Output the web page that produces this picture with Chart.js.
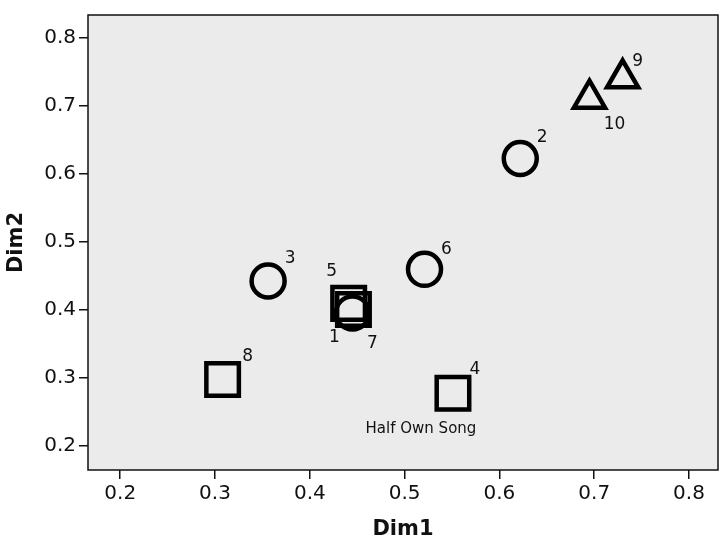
<!DOCTYPE html>
<html>
<head>
<meta charset="utf-8">
<script src="https://cdn.jsdelivr.net/npm/chart.js@4.4.1/dist/chart.umd.min.js"></script>
<style>
  html, body { margin: 0; padding: 0; background: #fff; }
  #wrap { width: 720px; height: 546px; }
</style>
</head>
<body>
<div id="wrap"><canvas id="chart" width="720" height="546"></canvas></div>
<script>
// ---- data ----
const ids    = ['1', '2', '3', '4', '5', '6', '7', '8', '9', '10'];
const dim1   = [0.445, 0.622, 0.356, 0.551, 0.441, 0.521, 0.446, 0.308, 0.730, 0.695];
const dim2   = [0.395, 0.622, 0.442, 0.277, 0.409, 0.459, 0.400, 0.297, 0.740, 0.710];
const shapes = ['circle', 'circle', 'circle', 'rect', 'rect', 'circle', 'rect', 'rect', 'triangle', 'triangle'];
const xTicks = [0.2, 0.3, 0.4, 0.5, 0.6, 0.7, 0.8];
const yTicks = [0.2, 0.3, 0.4, 0.5, 0.6, 0.7, 0.8];
const noteText = 'Half Own Song';   // caption under point 4
const notePoint = '4';

// label offsets from the marker centre (px)
const labelOffsets = {
  '1': [-18, 25], '2': [22, -21], '3': [22, -22], '4': [22, -24], '5': [-17, -32],
  '6': [22, -20], '7': [19, 34], '8': [25, -23], '9': [15, -17], '10': [25, 26]
};
const markerRadius = { circle: 16.5, rect: 23, triangle: 18 };

function buildDataset(shape) {
  const pts = [];
  ids.forEach((id, i) => {
    if (shapes[i] === shape) pts.push({ x: dim1[i], y: dim2[i], id: id });
  });
  return {
    label: shape,
    data: pts,
    pointStyle: shape,
    pointRadius: markerRadius[shape],
    pointHoverRadius: markerRadius[shape],
    pointBorderWidth: 4.5,
    pointBackgroundColor: 'rgba(0,0,0,0)',
    pointBorderColor: '#000',
    showLine: false
  };
}

const plotArea = {
  id: 'plotArea',
  beforeDraw(chart) {
    const { ctx, chartArea: a } = chart;
    ctx.save();
    ctx.fillStyle = '#ebebeb';
    ctx.fillRect(a.left, a.top, a.right - a.left, a.bottom - a.top);
    ctx.restore();
  },
  afterDraw(chart) {
    const { ctx, chartArea: a } = chart;
    ctx.save();
    ctx.strokeStyle = '#111';
    ctx.lineWidth = 1.5;
    ctx.strokeRect(a.left, a.top, a.right - a.left, a.bottom - a.top);
    ctx.restore();
  }
};

const pointLabels = {
  id: 'pointLabels',
  afterDatasetsDraw(chart) {
    const { ctx } = chart;
    ctx.save();
    ctx.fillStyle = '#111';
    ctx.textAlign = 'center';
    ctx.textBaseline = 'middle';
    chart.data.datasets.forEach((ds, di) => {
      const meta = chart.getDatasetMeta(di);
      ds.data.forEach((p, i) => {
        const el = meta.data[i];
        const off = labelOffsets[p.id];
        ctx.font = '17px "DejaVu Sans"';
        ctx.fillText(p.id, el.x + off[0], el.y + off[1]);
        if (p.id === notePoint) {
          ctx.font = '15px "DejaVu Sans"';
          ctx.fillText(noteText, el.x - 32, el.y + 36);
        }
      });
    });
    ctx.restore();
  }
};

const tickFont = { family: 'DejaVu Sans', size: 20 };
const titleFont = { family: 'DejaVu Sans', size: 21, weight: 'bold' };

new Chart(document.getElementById('chart'), {
  type: 'scatter',
  data: { datasets: [buildDataset('rect'), buildDataset('circle'), buildDataset('triangle')] },
  options: {
    responsive: false,
    animation: false,
    layout: { autoPadding: false, padding: { top: 5, right: 2, left: 0, bottom: 0 } },
    plugins: { legend: { display: false }, tooltip: { enabled: false } },
    scales: {
      x: {
        type: 'linear',
        min: 0.166, max: 0.8306,
        afterBuildTicks: (s) => { s.ticks = xTicks.map(v => ({ value: v })); },
        afterFit: (s) => { s.height = 76; },
        grid: { display: true, drawOnChartArea: false, drawTicks: true, tickLength: 9, color: '#111', lineWidth: 1.5 },
        border: { display: false },
        ticks: { color: '#111', font: tickFont, padding: 3, callback: (v) => v.toFixed(1) },
        title: { display: true, text: 'Dim1', color: '#111', font: titleFont, padding: { top: 4 } }
      },
      y: {
        type: 'linear',
        min: 0.164, max: 0.833,
        afterBuildTicks: (s) => { s.ticks = yTicks.map(v => ({ value: v })); },
        afterFit: (s) => { s.width = 88; },
        grid: { display: true, drawOnChartArea: false, drawTicks: true, tickLength: 9, color: '#111', lineWidth: 1.5 },
        border: { display: false },
        ticks: { color: '#111', font: tickFont, padding: 3, callback: (v) => v.toFixed(1) },
        title: { display: true, text: 'Dim2', color: '#111', font: titleFont, padding: { bottom: 0 } }
      }
    }
  },
  plugins: [plotArea, pointLabels]
});
</script>
</body>
</html>
